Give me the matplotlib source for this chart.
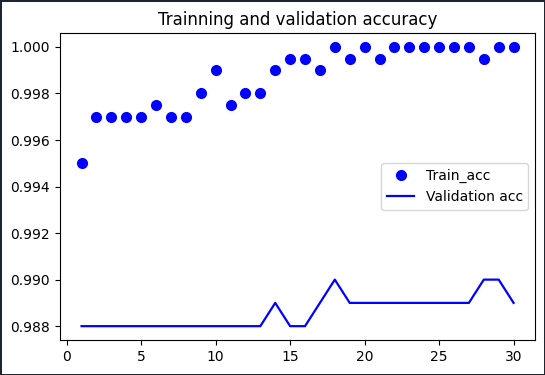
import matplotlib
matplotlib.use('Agg')
import matplotlib.pyplot as plt

# Dane z treningu
epochs = list(range(1, 31))
train_acc = [0.995, 0.997, 0.997, 0.997, 0.997, 0.9975, 0.997, 0.997, 0.998, 0.999,
             0.9975, 0.998, 0.998, 0.999, 0.9995, 0.9995, 0.999, 1.0, 0.9995, 1.0,
             0.9995, 1.0, 1.0, 1.0, 1.0, 1.0, 1.0, 0.9995, 1.0, 1.0]
val_acc = [0.988, 0.988, 0.988, 0.988, 0.988, 0.988, 0.988, 0.988, 0.988, 0.988,
           0.988, 0.988, 0.988, 0.989, 0.988, 0.988, 0.989, 0.990, 0.989, 0.989,
           0.989, 0.989, 0.989, 0.989, 0.989, 0.989, 0.989, 0.990, 0.990, 0.989]

fig = plt.figure(figsize=(5.45, 3.75), dpi=100)
fig.patch.set_edgecolor('#1e2530')
fig.patch.set_linewidth(2)
ax = fig.add_axes([0.110, 0.093, 0.872, 0.819])

ax.plot(epochs, train_acc, 'bo', markersize=7, label='Train_acc')
ax.plot(epochs, val_acc, 'b', linewidth=1.6, label='Validation acc')
ax.set_title('Trainning and validation accuracy', fontsize=12)
ax.set_yticks([0.988, 0.990, 0.992, 0.994, 0.996, 0.998, 1.000])
ax.set_xticks([0, 5, 10, 15, 20, 25, 30])
ax.tick_params(labelsize=10)
ax.legend(loc='center right', fontsize=10)

fig.savefig('out.png', dpi=100, edgecolor=fig.get_edgecolor())
